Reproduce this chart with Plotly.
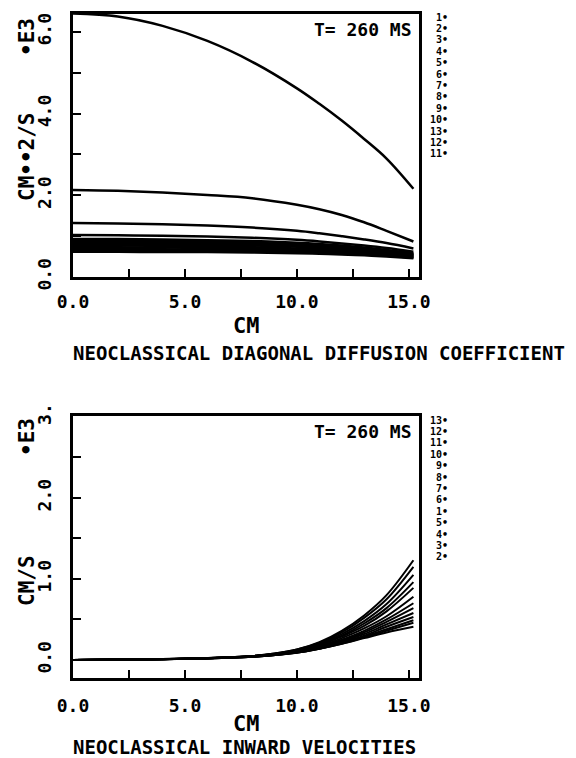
import plotly.graph_objects as go

# ---- Neoclassical diagonal diffusion coefficient (units of 1E3 cm^2/s) ----
X_D = [0.0, 2.0, 4.0, 6.0, 8.0, 10.0, 11.0, 12.0, 13.0, 14.0, 15.2]
D_LABELS = ["1", "2", "3", "4", "5", "6", "7", "8", "9", "10", "13", "12", "11"]
D_VALUES = [
    [6.45, 6.38, 6.15, 5.78, 5.27, 4.62, 4.24, 3.83, 3.38, 2.90, 2.16],
    [2.13, 2.11, 2.07, 2.01, 1.93, 1.77, 1.66, 1.52, 1.34, 1.13, 0.87],
    [1.32, 1.31, 1.29, 1.26, 1.21, 1.13, 1.07, 1.00, 0.92, 0.83, 0.70],
    [1.03, 1.02, 1.01, 0.99, 0.96, 0.91, 0.87, 0.82, 0.77, 0.71, 0.62],
    [0.93, 0.93, 0.92, 0.90, 0.88, 0.84, 0.81, 0.77, 0.72, 0.66, 0.58],
    [0.89, 0.89, 0.88, 0.86, 0.84, 0.80, 0.77, 0.74, 0.69, 0.64, 0.56],
    [0.85, 0.85, 0.84, 0.83, 0.80, 0.77, 0.74, 0.71, 0.67, 0.62, 0.55],
    [0.81, 0.81, 0.80, 0.79, 0.77, 0.74, 0.71, 0.68, 0.64, 0.60, 0.53],
    [0.77, 0.77, 0.76, 0.75, 0.73, 0.70, 0.68, 0.65, 0.62, 0.58, 0.52],
    [0.73, 0.73, 0.72, 0.71, 0.70, 0.67, 0.65, 0.63, 0.60, 0.56, 0.50],
    [0.69, 0.69, 0.68, 0.67, 0.66, 0.64, 0.62, 0.60, 0.57, 0.54, 0.49],
    [0.65, 0.65, 0.64, 0.64, 0.62, 0.61, 0.59, 0.57, 0.55, 0.52, 0.47],
    [0.62, 0.62, 0.61, 0.61, 0.60, 0.58, 0.57, 0.55, 0.53, 0.50, 0.46],
]

# ---- Neoclassical inward velocities (units of 1E3 cm/s) ----
X_V = [0.0, 2.0, 4.0, 6.0, 8.0, 9.0, 10.0, 11.0, 12.0, 13.0, 14.0, 15.2]
V_LABELS = ["13", "12", "11", "10", "9", "8", "7", "6", "1", "5", "4", "3", "2"]
V_VALUES = [
    [0.00, 0.005, 0.012, 0.025, 0.050, 0.080, 0.130, 0.22, 0.36, 0.55, 0.80, 1.23],
    [0.00, 0.005, 0.012, 0.024, 0.050, 0.080, 0.130, 0.21, 0.34, 0.52, 0.75, 1.15],
    [0.00, 0.005, 0.011, 0.024, 0.048, 0.075, 0.120, 0.20, 0.32, 0.48, 0.69, 1.05],
    [0.00, 0.005, 0.011, 0.023, 0.047, 0.073, 0.120, 0.19, 0.30, 0.45, 0.64, 0.96],
    [0.00, 0.005, 0.011, 0.023, 0.046, 0.070, 0.110, 0.18, 0.29, 0.42, 0.60, 0.89],
    [0.00, 0.005, 0.010, 0.022, 0.045, 0.070, 0.110, 0.17, 0.27, 0.39, 0.54, 0.78],
    [0.00, 0.004, 0.010, 0.022, 0.044, 0.068, 0.100, 0.16, 0.25, 0.36, 0.50, 0.70],
    [0.00, 0.004, 0.010, 0.021, 0.043, 0.066, 0.100, 0.16, 0.24, 0.34, 0.47, 0.64],
    [0.00, 0.004, 0.010, 0.021, 0.042, 0.064, 0.100, 0.15, 0.23, 0.32, 0.44, 0.58],
    [0.00, 0.004, 0.010, 0.021, 0.042, 0.063, 0.095, 0.15, 0.22, 0.30, 0.41, 0.53],
    [0.00, 0.004, 0.010, 0.020, 0.041, 0.062, 0.093, 0.14, 0.21, 0.29, 0.38, 0.49],
    [0.00, 0.004, 0.010, 0.020, 0.040, 0.061, 0.091, 0.14, 0.20, 0.28, 0.36, 0.46],
    [0.00, 0.004, 0.010, 0.020, 0.040, 0.060, 0.090, 0.14, 0.20, 0.27, 0.34, 0.41],
]

X_TICKS = [0.0, 2.5, 5.0, 7.5, 10.0, 12.5, 15.0]
X_TICKTEXT = ["0.0", "", "5.0", "", "10.0", "", "15.0"]
D_TICKS = [0, 1, 2, 3, 4, 5, 6]
D_TICKTEXT = ["0.0", "", "2.0", "", "4.0", "", "6.0"]
V_TICKS = [0.0, 0.5, 1.0, 1.5, 2.0, 2.5, 3.0]
V_TICKTEXT = ["0.0", "", "1.0", "", "2.0", "", "3."]

TIME_LABEL = "T= 260 MS"
D_TITLE, V_TITLE, EXP_TITLE, X_TITLE = "CM••2/S", "CM/S", "•E3", "CM"
D_CAPTION = "NEOCLASSICAL DIAGONAL DIFFUSION COEFFICIENT"
V_CAPTION = "NEOCLASSICAL INWARD VELOCITIES"

W, H = 576, 758
MONO = "DejaVu Sans Mono"


def px(x):
    return x / W


def py(y):
    return 1 - y / H


fig = go.Figure()
for vals in D_VALUES:
    fig.add_trace(go.Scatter(x=X_D, y=vals, mode="lines", xaxis="x", yaxis="y",
                             line=dict(color="black", width=2.5, shape="spline"),
                             showlegend=False, hoverinfo="skip"))
for vals in V_VALUES:
    fig.add_trace(go.Scatter(x=X_V, y=vals, mode="lines", xaxis="x2", yaxis="y2",
                             line=dict(color="black", width=2, shape="spline"),
                             showlegend=False, hoverinfo="skip"))

tickfont = dict(family=MONO, size=18, color="black", weight="bold")
common = dict(showline=True, mirror=True, linewidth=3, linecolor="black",
              showgrid=False, zeroline=False, ticks="inside", ticklen=8,
              tickwidth=2, tickcolor="black", tickfont=tickfont, automargin=False)

fig.update_layout(
    width=W, height=H, margin=dict(l=0, r=0, t=0, b=0, autoexpand=False),
    paper_bgcolor="white", plot_bgcolor="white",
    xaxis=dict(domain=[px(73), px(419)], range=[0, 15.45], anchor="y",
               tickvals=X_TICKS, ticktext=X_TICKTEXT, ticklabelstandoff=6, **common),
    yaxis=dict(domain=[py(277), py(14)], range=[0, 6.44], anchor="x",
               tickvals=D_TICKS, ticktext=D_TICKTEXT, tickangle=-90,
               ticklabelstandoff=12, **common),
    xaxis2=dict(domain=[px(73), px(419)], range=[0, 15.45], anchor="y2",
                tickvals=X_TICKS, ticktext=X_TICKTEXT, ticklabelstandoff=9, **common),
    yaxis2=dict(domain=[py(678), py(416)], range=[-0.222, 3.01], anchor="x2",
                tickvals=V_TICKS, ticktext=V_TICKTEXT, tickangle=-90,
                ticklabelstandoff=12, **common),
)

ann = []
bold = dict(family=MONO, color="black", weight="bold")

# Rotated y-axis titles: unit text and the 1E3 multiplier
for text, y in [(D_TITLE, 157), (EXP_TITLE, 37), (V_TITLE, 581), (EXP_TITLE, 437)]:
    ann.append(dict(text=text, x=px(27), y=py(y), xref="paper", yref="paper",
                    showarrow=False, textangle=-90, font=dict(size=21, **bold),
                    xanchor="center", yanchor="middle"))

# x-axis titles and captions
for y in (326, 723):
    ann.append(dict(text=X_TITLE, x=px(246), y=py(y), xref="paper", yref="paper",
                    showarrow=False, font=dict(size=22, **bold),
                    xanchor="center", yanchor="middle"))
for text, y in [(D_CAPTION, 353), (V_CAPTION, 747)]:
    ann.append(dict(text=text, x=px(71), y=py(y), xref="paper", yref="paper",
                    showarrow=False, font=dict(size=19, **bold),
                    xanchor="left", yanchor="middle"))

# time stamps
for y in (29, 431):
    ann.append(dict(text=TIME_LABEL, x=px(414), y=py(y), xref="paper", yref="paper",
                    showarrow=False, font=dict(size=18, **bold),
                    xanchor="right", yanchor="middle"))

# curve number keys beside each frame
for labels, y0 in [(D_LABELS, 17), (V_LABELS, 420)]:
    for i, lab in enumerate(labels):
        ann.append(dict(text=lab + "•", x=px(449), y=py(y0 + i * 11.4),
                        xref="paper", yref="paper", showarrow=False,
                        font=dict(size=10, **bold), xanchor="right",
                        yanchor="middle", borderpad=0))

fig.update_layout(annotations=ann)
fig.write_html("out.html")
